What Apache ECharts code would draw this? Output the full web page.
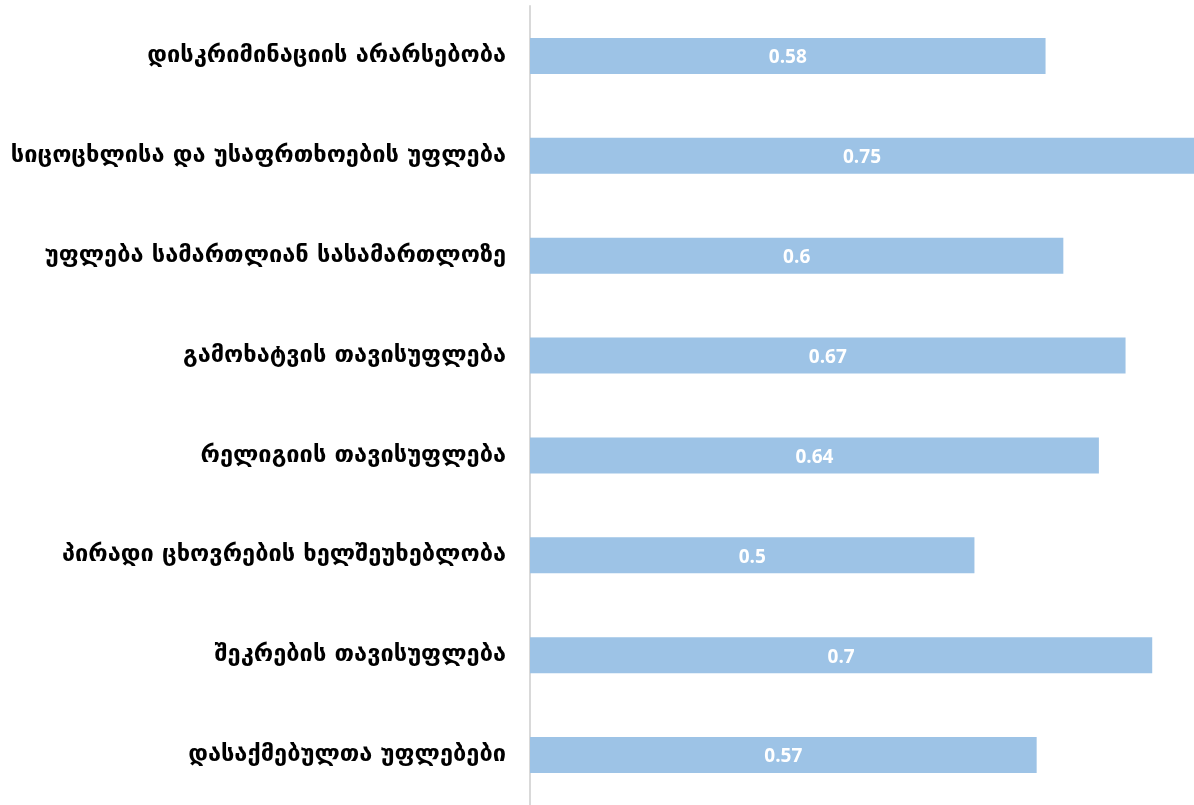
<!DOCTYPE html>
<html><head><meta charset="utf-8">
<script src="https://cdn.jsdelivr.net/npm/echarts@6/dist/echarts.min.js"></script>
<style>html,body{margin:0;padding:0;background:#fff}#c{width:1194px;height:805px}</style>
</head><body><div id="c"></div>
<script>
const categories = [
  'დისკრიმინაციის არარსებობა',
  'სიცოცხლისა და უსაფრთხოების უფლება',
  'უფლება სამართლიან სასამართლოზე',
  'გამოხატვის თავისუფლება',
  'რელიგიის თავისუფლება',
  'პირადი ცხოვრების ხელშეუხებლობა',
  'შეკრების თავისუფლება',
  'დასაქმებულთა უფლებები'
];
const values = [0.58, 0.75, 0.6, 0.67, 0.64, 0.5, 0.7, 0.57];

const chart = echarts.init(document.getElementById('c'));
chart.setOption({
  animation: false,
  grid: { left: 530, right: 0, top: 6, height: 802 },
  xAxis: { type: 'value', min: 0, max: 0.747, show: false },
  yAxis: {
    type: 'category', data: categories, inverse: true,
    axisLine: { show: true, lineStyle: { color: '#d9d9d9', width: 2 } },
    axisTick: { show: false },
    axisLabel: { color: '#000', fontSize: 23.6, fontWeight: 'bold', fontFamily: 'DejaVu Sans', margin: 24 }
  },
  series: [{
    type: 'bar', data: values, barWidth: '36%',
    itemStyle: { color: '#9dc3e6' },
    label: { show: true, position: 'inside', color: '#fff', fontSize: 19, fontWeight: 'bold', fontFamily: 'Open Sans', offset: [0, 2] }
  }]
});
</script></body></html>
